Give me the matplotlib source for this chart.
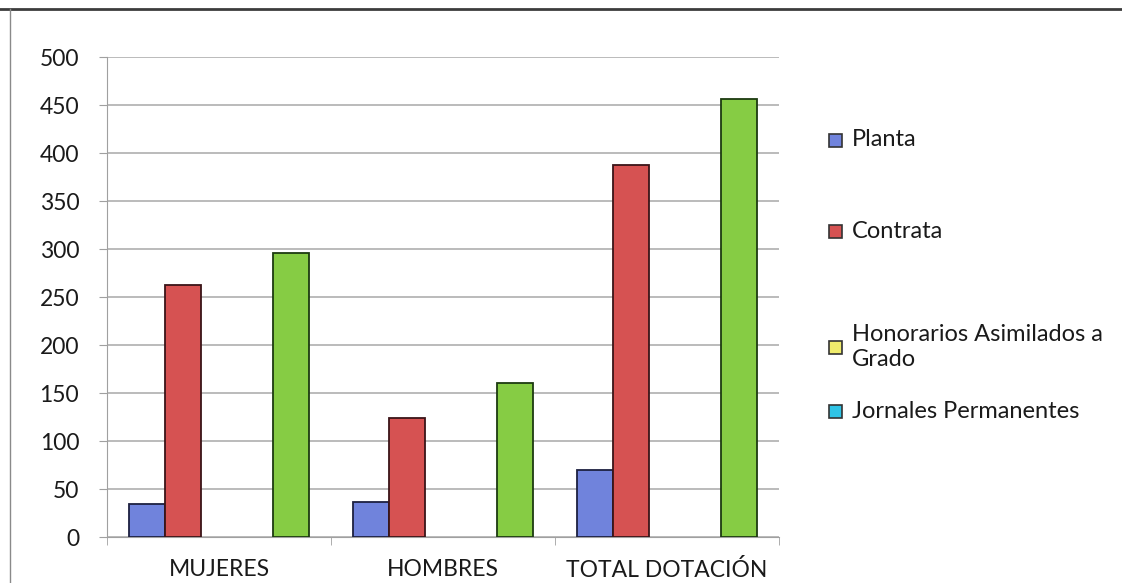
import numpy as np
import matplotlib.pyplot as plt
from matplotlib.patches import Rectangle
from matplotlib.lines import Line2D

plt.rcParams['font.family'] = ['Lato', 'DejaVu Sans']

# Dotación de personal por calidad jurídica
categorias = ['MUJERES', 'HOMBRES', 'TOTAL DOTACIÓN']
planta = [34, 36, 70]
contrata = [263, 124, 387]
honorarios = [0, 0, 0]
jornales = [0, 0, 0]
total = [296, 160, 456]

series = [planta, contrata, honorarios, jornales, total]
nombres = ['Planta', 'Contrata', 'Honorarios Asimilados a\nGrado', 'Jornales Permanentes', 'Total']
colores = ['#7083dc', '#d65252', '#f0ec6c', '#2fc4e6', '#86cc44']
bordes = ['#1c2040', '#3a1418', '#3a3a10', '#10303a', '#1c3a10']

W, H = 1122, 583
fig = plt.figure(figsize=(W / 100, H / 100), dpi=100)
ax = fig.add_axes([107 / W, 1 - 537 / H, (779 - 107) / W, (537 - 57) / H])

x = np.arange(len(categorias))
ancho = 0.16
for i, (vals, col, borde) in enumerate(zip(series, colores, bordes)):
    # las barras en cero no se dibujan con borde
    lw = [1.3 if v > 0 else 0 for v in vals]
    ax.bar(x + (i - 2) * ancho, vals, width=ancho, color=col,
           edgecolor=borde, linewidth=lw, zorder=3)

ax.set_xlim(-0.5, 2.5)
ax.set_ylim(0, 500)
ax.set_yticks(np.arange(0, 501, 50))
ax.set_xticks(x)
ax.set_xticklabels(categorias)
ax.set_xticks([-0.5, 0.5, 1.5, 2.5], minor=True)

ax.yaxis.grid(True, color='#a8a8a8', linewidth=1.1, zorder=0)
for s in ['top', 'right']:
    ax.spines[s].set_visible(False)
ax.spines['left'].set_color('#a0a0a0')
ax.spines['bottom'].set_color('#a0a0a0')

ax.tick_params(axis='y', length=6, color='#a0a0a0', labelsize=16.5, pad=14, labelcolor='#1a1a1a')
ax.tick_params(axis='x', which='major', length=0, labelsize=16.5, pad=16, labelcolor='#1a1a1a')
ax.tick_params(axis='x', which='minor', length=6, color='#a0a0a0')

# leyenda (solo las cuatro primeras series)
ley_y = [140, 231, 347, 411]
for nombre, col, borde, yy in zip(nombres[:4], colores[:4], bordes[:4], ley_y):
    fig.patches.append(Rectangle((829 / W, 1 - (yy + 7) / H), 13 / W, 13 / H,
                                 transform=fig.transFigure, facecolor=col,
                                 edgecolor='#333333', linewidth=1.2))
    fig.text(852 / W, 1 - yy / H, nombre, fontsize=17, color='#1a1a1a',
             va='center', ha='left', linespacing=1.25)

# marco
fig.lines.append(Line2D([0, 1], [1 - 9 / H, 1 - 9 / H], transform=fig.transFigure,
                        color='#3c3c3c', linewidth=2))
fig.lines.append(Line2D([10 / W, 10 / W], [0, 1 - 9 / H], transform=fig.transFigure,
                        color='#8a8a8a', linewidth=1))

fig.savefig('out.png', dpi=100)
